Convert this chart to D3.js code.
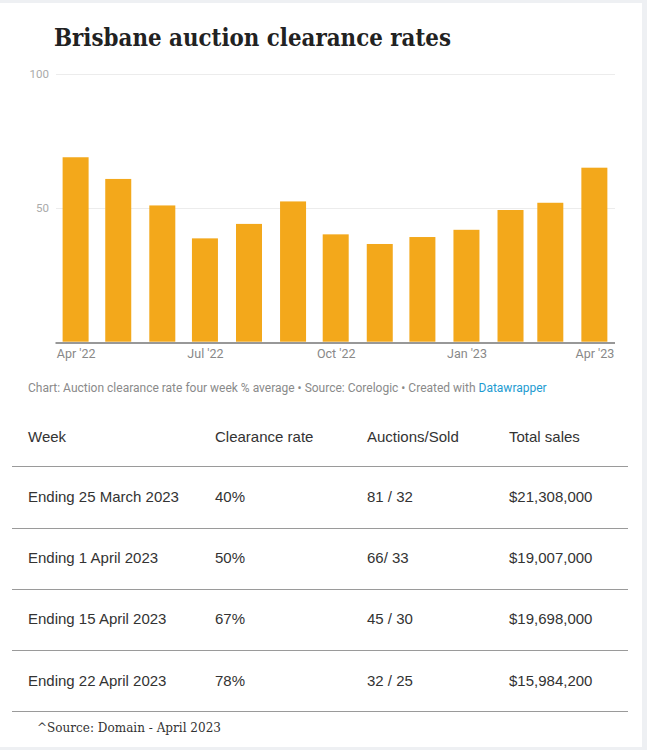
<!DOCTYPE html>
<html>
<head>
<meta charset="utf-8">
<script src="https://cdn.jsdelivr.net/npm/d3@7"></script>
<style>
  html, body { margin: 0; padding: 0; }
  body { width: 647px; height: 750px; background: #eef0f3; overflow: hidden; position: relative; }
  #card { position: absolute; left: 0; top: 3px; width: 642px; height: 744px; background: #fff; }
  svg { position: absolute; left: 0; top: 0; }
</style>
</head>
<body>
<div id="card"></div>
<svg id="chart" width="647" height="750"></svg>
<script>
// ---- data ----
const months = ["2022-04","2022-05","2022-06","2022-07","2022-08","2022-09","2022-10","2022-11","2022-12","2023-01","2023-02","2023-03","2023-04"];
const clearanceRate = [68.9, 60.8, 50.9, 38.6, 44.0, 52.4, 40.1, 36.5, 39.1, 41.8, 49.2, 51.9, 65.0];
const xTickMonths = ["2022-04","2022-07","2022-10","2023-01","2023-04"];
const yTicks = [50, 100];
const titleText = "Brisbane auction clearance rates";
const captionParts = ["Chart: Auction clearance rate four week % average • Source: Corelogic • Created with ", "Datawrapper"];
const tableHeader = ["Week", "Clearance rate", "Auctions/Sold", "Total sales"];
const tableWeeks = ["Ending 25 March 2023", "Ending 1 April 2023", "Ending 15 April 2023", "Ending 22 April 2023"];
const tableRates = ["40%", "50%", "67%", "78%"];
const tableAuctions = ["81 / 32", "66/ 33", "45 / 30", "32 / 25"];
const tableSales = ["$21,308,000", "$19,007,000", "$19,698,000", "$15,984,200"];
const sourceNote = "^Source: Domain - April 2023";

const parse = d3.timeParse("%Y-%m");
const dates = months.map(parse);
const svg = d3.select("#chart");

// title
svg.append("text")
  .attr("x", 54).attr("y", 46)
  .attr("font-family", "'DejaVu Serif', 'Liberation Serif', serif")
  .attr("font-weight", "bold").attr("font-size", 24)
  .attr("fill", "#222")
  .attr("textLength", 397).attr("lengthAdjust", "spacingAndGlyphs")
  .text(titleText);

// scales
const x = d3.scaleTime()
  .domain([d3.timeHour.offset(dates[0], -348), d3.timeHour.offset(dates[dates.length - 1], 340)])
  .range([55, 614.5]);
const y = d3.scaleLinear().domain([0, 100]).range([341.7, 74]);
const barW = 26;

// gridlines
svg.append("g").selectAll("line").data(yTicks).join("line")
  .attr("x1", 56).attr("x2", 615)
  .attr("y1", d => Math.round(y(d)) + 0.5).attr("y2", d => Math.round(y(d)) + 0.5)
  .attr("stroke", "#ececec").attr("stroke-width", 1);

// y labels
svg.append("g").selectAll("text").data(yTicks).join("text")
  .attr("x", 49).attr("y", d => y(d) + 4)
  .attr("text-anchor", "end")
  .attr("font-family", "Roboto, sans-serif").attr("font-size", 11.5)
  .attr("fill", "#aaa")
  .text(d => d);

// bars
svg.append("g").selectAll("rect").data(clearanceRate).join("rect")
  .attr("x", (d, i) => x(dates[i]) - barW / 2)
  .attr("width", barW)
  .attr("y", d => y(d))
  .attr("height", d => y(0) - y(d))
  .attr("fill", "#f3a81b");

// x axis
const fmt = d3.timeFormat("%b '%y");
const xAxis = d3.axisBottom(x)
  .tickValues(xTickMonths.map(parse))
  .tickFormat(fmt)
  .tickSize(0).tickPadding(7);
const gx = svg.append("g").attr("transform", `translate(0,${Math.round(y(0)) + 0.5})`).call(xAxis);
gx.select(".domain").attr("stroke", "#333").attr("stroke-width", 1.2);
gx.selectAll("text")
  .attr("font-family", "Roboto, sans-serif").attr("font-size", 12.5)
  .attr("fill", "#888");

// caption
const cap = svg.append("text")
  .attr("x", 28).attr("y", 392)
  .attr("font-family", "Roboto, sans-serif").attr("font-size", 12)
  .attr("fill", "#8a8a8a");
cap.append("tspan").text(captionParts[0]);
cap.append("tspan").attr("fill", "#1d9bd1").text(captionParts[1]);

// table
const colX = [28, 215, 367, 509];
const rowsY = [437, 497, 558, 619, 681];
const linesY = [466, 528, 589, 650, 711];
const rows = [tableHeader].concat(tableWeeks.map((w, i) => [w, tableRates[i], tableAuctions[i], tableSales[i]]));

const tg = svg.append("g");
tg.selectAll("line").data(linesY).join("line")
  .attr("x1", 12).attr("x2", 628)
  .attr("y1", d => d + 0.5).attr("y2", d => d + 0.5)
  .attr("stroke", "#9a9a9a").attr("stroke-width", 1);

rows.forEach((r, ri) => {
  tg.append("g").selectAll("text").data(r).join("text")
    .attr("x", (d, ci) => colX[ci])
    .attr("y", rowsY[ri] + 5)
    .attr("font-family", "'Liberation Sans', Arial, sans-serif")
    .attr("font-size", 15)
    .attr("fill", "#333")
    .text(d => d);
});

// source note
svg.append("text")
  .attr("x", 37).attr("y", 732)
  .attr("font-family", "'DejaVu Serif', 'Liberation Serif', serif")
  .attr("font-size", 13)
  .attr("fill", "#333")
  .attr("textLength", 184).attr("lengthAdjust", "spacingAndGlyphs")
  .text(sourceNote);
</script>
</body>
</html>
